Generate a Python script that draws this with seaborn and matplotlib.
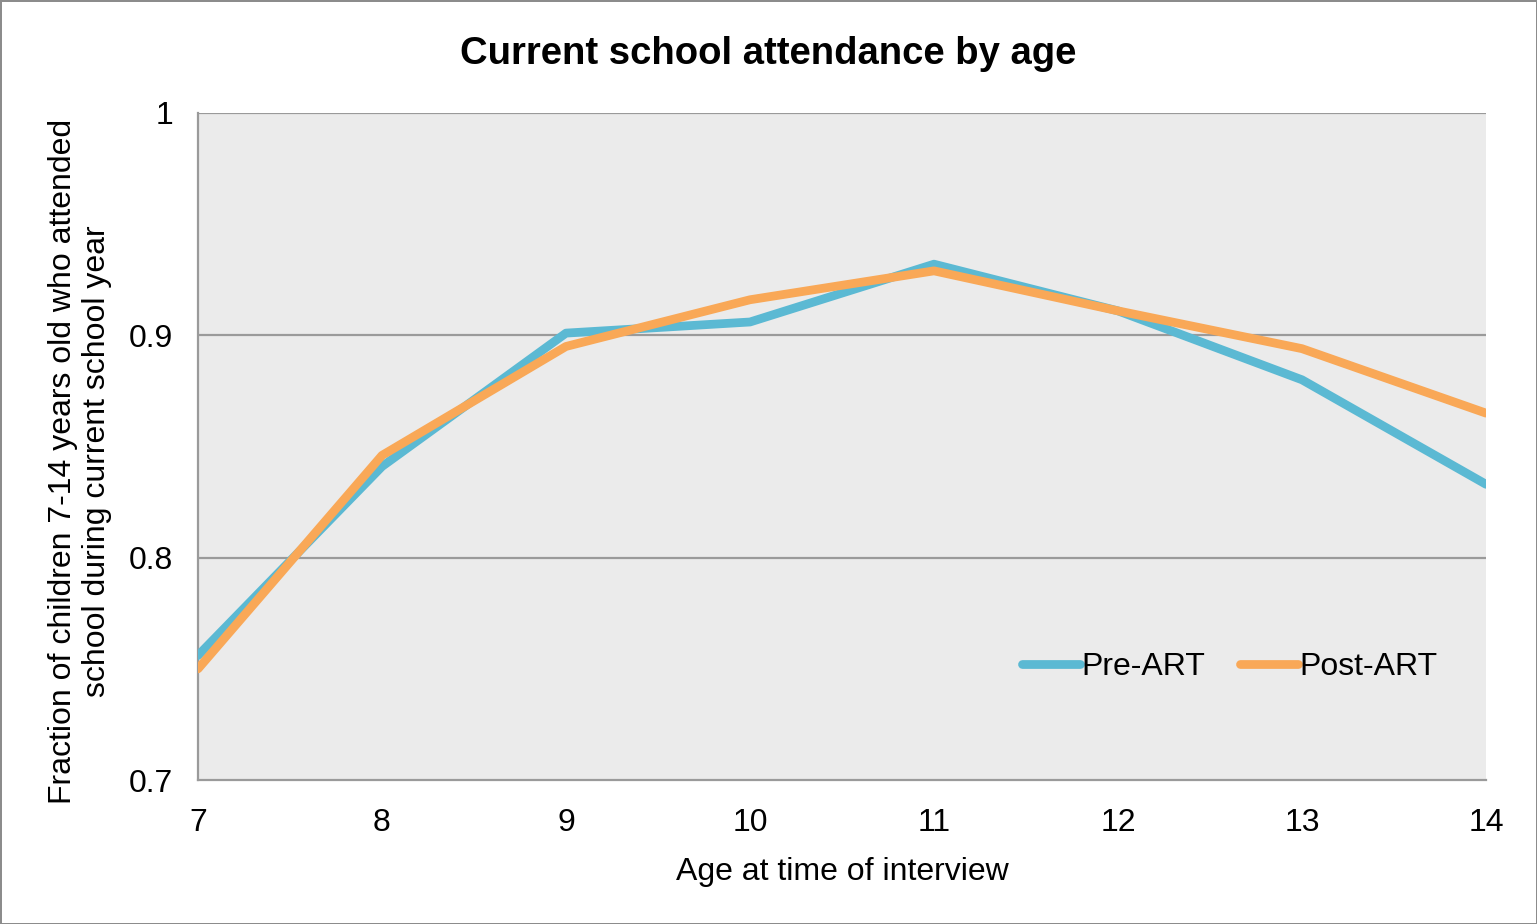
import matplotlib
matplotlib.use("Agg")
import matplotlib.pyplot as plt
import seaborn as sns
import pandas as pd

# Attendance fraction by age, before and after ART
ages = [7, 8, 9, 10, 11, 12, 13, 14]
pre_art = [0.756, 0.841, 0.901, 0.906, 0.932, 0.911, 0.880, 0.833]
post_art = [0.750, 0.846, 0.895, 0.916, 0.929, 0.911, 0.894, 0.865]
series_names = ["Pre-ART", "Post-ART"]
y_ticks = [0.7, 0.8, 0.9, 1.0]
y_tick_labels = ["0.7", "0.8", "0.9", "1"]

df = pd.DataFrame({
    "age": ages * 2,
    "value": pre_art + post_art,
    "series": [series_names[0]] * len(ages) + [series_names[1]] * len(ages),
})

sns.set_style("white", {"axes.facecolor": "#EBEBEB"})
plt.rcParams["font.family"] = ["Liberation Sans", "DejaVu Sans"]
plt.rcParams["text.color"] = "black"
plt.rcParams["axes.labelcolor"] = "black"

fig = plt.figure(figsize=(15.37, 9.24), dpi=100)
fig.patch.set_facecolor("white")
fig.patch.set_edgecolor("#8c8c8c")
fig.patch.set_linewidth(2)
ax = fig.add_axes([198 / 1537, 1 - 780 / 924, (1486 - 198) / 1537, (780 - 113) / 924])

palette = {"Pre-ART": "#5BB9D3", "Post-ART": "#F9A857"}
sns.lineplot(data=df, x="age", y="value", hue="series", palette=palette,
             linewidth=6.3, ax=ax, legend=True, zorder=3)

ax.set_xlim(7, 14)
ax.set_ylim(0.7, 1.0)
ax.set_xticks(ages)
ax.set_xticklabels([str(a) for a in ages])
ax.set_yticks(y_ticks)
ax.set_yticklabels(y_tick_labels)

for y in y_ticks[1:]:
    ax.axhline(y, color="#9a9a9a", linewidth=1.6, zorder=1)

for side in ["top", "right"]:
    ax.spines[side].set_visible(False)
for side in ["left", "bottom"]:
    ax.spines[side].set_color("#9a9a9a")
    ax.spines[side].set_linewidth(1.6)

ax.tick_params(axis="both", which="major", direction="out", length=8,
               width=1.6, color="#9a9a9a", labelsize=23, labelcolor="black")
ax.tick_params(axis="y", pad=10)
ax.tick_params(axis="x", pad=12)

ax.set_xlabel("Age at time of interview", fontsize=23, labelpad=14)
ax.set_ylabel("Fraction of children 7-14 years old who attended\nschool during current school year",
              fontsize=23, ha="center", va="center")
ax.yaxis.set_label_coords((80 - 198) / 1288, (780 - 461) / 667)
fig.suptitle("Current school attendance by age", fontsize=27.5, fontweight="bold",
             y=1 - 54 / 924, va="center")

handles, labels = ax.get_legend_handles_labels()
for h in handles:
    h.set_solid_capstyle("round")
leg = ax.legend(handles, labels, loc="center", bbox_to_anchor=((1230 - 198) / 1288, (780 - 667) / 667),
                ncol=2, frameon=False, fontsize=23, handlelength=1.8, handletextpad=0.05,
                columnspacing=1.1)

fig.savefig("out.png", dpi=100)
